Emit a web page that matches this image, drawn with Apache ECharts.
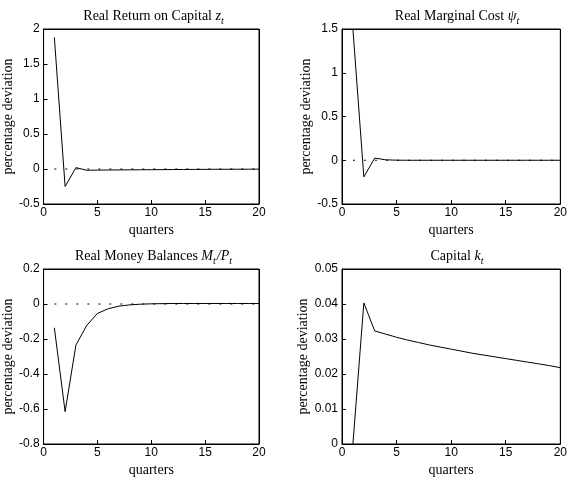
<!DOCTYPE html>
<html>
<head>
<meta charset="utf-8">
<script src="https://cdn.jsdelivr.net/npm/echarts@6/dist/echarts.min.js"></script>
<style>
  html, body { margin: 0; padding: 0; background: #fff; }
  #container { width: 570px; height: 481px; }
</style>
</head>
<body>
<div id="container"></div>
<script>
var quarters = [1, 2, 3, 4, 5, 6, 7, 8, 9, 10, 11, 12, 13, 14, 15, 16, 17, 18, 19, 20];
// z_t
var returnOnCapital = [1.88, -0.25, 0.02, -0.018, -0.016, -0.014, -0.013, -0.012, -0.011, -0.010,
  -0.009, -0.008, -0.007, -0.006, -0.005, -0.004, -0.004, -0.003, -0.003, -0.002];
// psi_t
var marginalCost = [1.5, -0.19, 0.025, 0.005, 0.001, 0, 0, 0, 0, 0,
  0, 0, 0, 0, 0, 0, 0, 0, 0, 0];
// M_t/P_t
var moneyBalances = [-0.136, -0.615, -0.235, -0.123, -0.054, -0.027, -0.012, -0.005, -0.001, 0.001,
  0.002, 0.003, 0.003, 0.003, 0.003, 0.003, 0.003, 0.003, 0.003, 0.003];
// k_t
var capital = [0, 0.0403, 0.0323, 0.0314, 0.0305, 0.0297, 0.0290, 0.0283, 0.0277, 0.0271,
  0.0265, 0.0259, 0.0254, 0.0249, 0.0244, 0.0239, 0.0234, 0.0229, 0.0224, 0.0218];

var xTicks = { min: 0, max: 20, interval: 5 };
var yRanges = [
  { min: -0.5, max: 2, interval: 0.5 },
  { min: -0.5, max: 1.5, interval: 0.5 },
  { min: -0.8, max: 0.2, interval: 0.2 },
  { min: 0, max: 0.05, interval: 0.01 }
];

var serif = '"Liberation Serif", "DejaVu Serif", serif';
var sans = '"Liberation Sans", Arial, sans-serif';

var panels = [
  { left: 39, top: 29, width: 220, data: returnOnCapital, zero: true,
    title: '{n|Real Return on Capital }{i|z}{s|t}' },
  { left: 342, top: 29, width: 221, data: marginalCost, zero: true,
    title: '{n|Real Marginal Cost }{i|ψ}{s|t}' },
  { left: 39, top: 269, width: 220, data: moneyBalances, zero: true,
    title: '{n|Real Money Balances }{i|M}{s|t}{i|/P}{s|t}' },
  { left: 342, top: 269, width: 221, data: capital, zero: false,
    title: '{n|Capital }{i|k}{s|t}' }
];

var grids = [], xAxes = [], yAxes = [], series = [], titles = [];
var richTitle = {
  n: { fontFamily: serif, fontSize: 14, fontWeight: 'normal', color: '#000' },
  i: { fontFamily: serif, fontSize: 14, fontWeight: 'normal', fontStyle: 'italic', color: '#000' },
  s: { fontFamily: serif, fontSize: 10, fontWeight: 'normal', fontStyle: 'italic', color: '#000', padding: [9, 1, 0, 0] }
};

function boxLine() {
  return { show: true, onZero: false, lineStyle: { color: '#000', width: 1 } };
}
function boxTick() {
  return { show: true, inside: true, length: 4, lineStyle: { color: '#000', width: 1 } };
}

panels.forEach(function (p, k) {
  grids.push({ left: p.left, top: p.top, width: p.width, height: 175,
    show: true, borderColor: '#000', borderWidth: 1 });

  titles.push({
    text: p.title, left: p.left + p.width / 2, top: p.top - 27, textAlign: 'center',
    textStyle: { fontWeight: 'normal', rich: richTitle }
  });

  xAxes.push({
    type: 'value', gridIndex: k, min: xTicks.min, max: xTicks.max, interval: xTicks.interval,
    position: 'bottom', name: 'quarters', nameLocation: 'middle', nameGap: 19,
    nameTextStyle: { fontFamily: serif, fontSize: 14, color: '#000' },
    axisLine: boxLine(), axisTick: boxTick(),
    axisLabel: { fontFamily: sans, fontSize: 12, color: '#000', margin: 3 },
    splitLine: { show: false }
  });
  var yr = yRanges[k];
  yAxes.push({
    type: 'value', gridIndex: k, min: yr.min, max: yr.max, interval: yr.interval,
    position: 'left', name: 'percentage deviation', nameLocation: 'middle', nameGap: 23,
    nameTextStyle: { fontFamily: serif, fontSize: 14, color: '#000' },
    axisLine: boxLine(), axisTick: boxTick(),
    axisLabel: { fontFamily: sans, fontSize: 12, color: '#000', margin: 4 },
    splitLine: { show: false }
  });

  if (p.zero) {
    series.push({
      type: 'line', xAxisIndex: k, yAxisIndex: k, symbol: 'none', silent: true,
      lineStyle: { color: '#000', width: 1, type: [2, 9] },
      data: quarters.map(function (q) { return [q, 0]; })
    });
  }
  series.push({
    type: 'line', xAxisIndex: k, yAxisIndex: k, symbol: 'none', clip: true,
    lineStyle: { color: '#000', width: 1 },
    data: quarters.map(function (q, i) { return [q, p.data[i]]; }),
    // top and right edges of the box, taken from the axis maxima
    markLine: {
      silent: true, symbol: 'none', animation: false,
      label: { show: false },
      lineStyle: { color: '#000', width: 1, type: 'solid' },
      emphasis: { disabled: true },
      data: [{ yAxis: yr.max }, { xAxis: xTicks.max }]
    }
  });
});

var myChart = echarts.init(document.getElementById('container'), null, { renderer: 'canvas' });
var option = {
  animation: false,
  backgroundColor: '#fff',
  title: titles,
  grid: grids,
  xAxis: xAxes,
  yAxis: yAxes,
  series: series
};
myChart.setOption(option);
</script>
</body>
</html>
